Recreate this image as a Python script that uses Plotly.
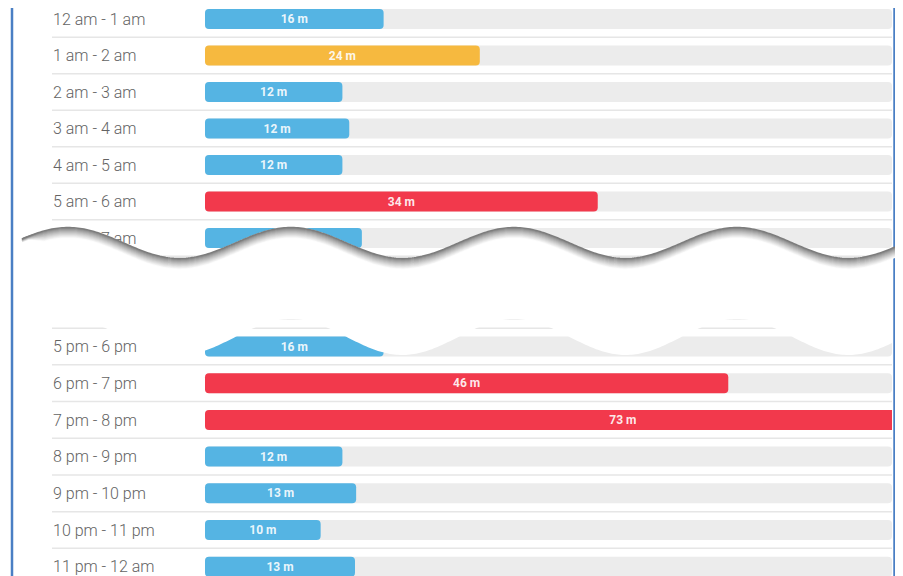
import numpy as np
import plotly.graph_objects as go

# page body has an 8px margin: the figure is placed 8px in from the window corner
OFF = 8
VW, VH = 903, 576
EXTRA = 24  # figure runs a little past the window bottom so the last label fits its axis
W, H = VW - OFF, VH - OFF + EXTRA

# ---------------- data ----------------
top_hours = ["12 am - 1 am", "1 am - 2 am", "2 am - 3 am", "3 am - 4 am",
             "4 am - 5 am", "5 am - 6 am", "6 am - 7 am"]
top_minutes = [15.6, 24.0, 12.0, 12.6, 12.0, 34.3, 13.7]
top_labels = ["16 m", "24 m", "12 m", "12 m", "12 m", "34 m", "14 m"]

bottom_hours = ["4 pm - 5 pm", "5 pm - 6 pm", "6 pm - 7 pm", "7 pm - 8 pm",
                "8 pm - 9 pm", "9 pm - 10 pm", "10 pm - 11 pm", "11 pm - 12 am"]
bottom_minutes = [None, 15.6, 45.7, 73.0, 12.0, 13.2, 10.1, 13.1]
bottom_labels = ["", "16 m", "46 m", "73 m", "12 m", "13 m", "10 m", "13 m"]

SCALE_MAX = 60  # one hour track

# ---------------- styling ----------------
BLUE, ORANGE, RED = "#55b4e3", "#f6b93f", "#f2394c"
TRACK = "#ececec"
SEP = "#e6e6e6"
LABEL = "#636363"
BORDER = "#4a7fc4"


def bar_color(v):
    if v is None:
        return BLUE
    if v >= 30:
        return RED
    if v >= 20:
        return ORANGE
    return BLUE


def X(px):
    return (px - OFF) / W


def Y(py):
    return 1 - (py - OFF) / H


# geometry in window pixels
BAR_X0, BAR_X1 = 205, 892
PX = (BAR_X1 - BAR_X0) / SCALE_MAX
AX_X0 = 50
xrange_ = [-(BAR_X0 - AX_X0) / PX, SCALE_MAX]
xdomain = [X(AX_X0), X(BAR_X1)]

TOP_ROW0, TOP_STEP, TOP_DOM = 19.0, 36.5, (OFF, 258)
BOT_ROW0, BOT_STEP, BOT_DOM = 309.8, 36.7, (290, VH + EXTRA)

fig = go.Figure()


def add_bars(hours, minutes, labels, xa, ya, width):
    n = len(hours)
    fig.add_trace(go.Bar(
        x=[SCALE_MAX] * n, y=hours, orientation="h", base=0,
        marker=dict(color=TRACK, cornerradius=4, line=dict(width=0)),
        width=width, xaxis=xa, yaxis=ya, hoverinfo="skip", showlegend=False,
    ))
    fig.add_trace(go.Bar(
        x=minutes, y=hours, orientation="h", base=0,
        marker=dict(color=[bar_color(v) for v in minutes], cornerradius=4,
                    line=dict(width=0)),
        width=width, text=labels, textposition="inside",
        insidetextanchor="middle", textangle=0, constraintext="none",
        textfont=dict(family="Roboto", size=12, color="rgba(255,255,255,0.9)",
                      weight="bold"),
        cliponaxis=True,
        xaxis=xa, yaxis=ya, hoverinfo="skip", showlegend=False,
    ))


add_bars(top_hours, top_minutes, top_labels, "x", "y", 20 / TOP_STEP)
add_bars(bottom_hours, bottom_minutes, bottom_labels, "x2", "y2", 20 / BOT_STEP)


def yaxis_cfg(dom, row0, step):
    d0, d1 = dom
    return dict(
        domain=[max(0, Y(d1)), min(1, Y(d0))], type="category",
        range=[(d1 - row0) / step, (d0 - row0) / step],
        showgrid=False, zeroline=False, showline=False, ticks="",
        ticklabelposition="inside", ticklabelstandoff=0,
        tickfont=dict(family="Roboto", size=16, color=LABEL, weight=300),
        fixedrange=True,
    )


xcfg = dict(domain=xdomain, range=xrange_, visible=False, showgrid=False,
            zeroline=False, fixedrange=True)

shapes = []

# separators between rows
for i in range(len(top_hours)):
    shapes.append(dict(type="line", xref="paper", yref="y", x0=X(52), x1=X(892),
                       y0=i + 0.5, y1=i + 0.5, line=dict(color=SEP, width=1.5),
                       layer="below"))
for i in range(len(bottom_hours)):
    shapes.append(dict(type="line", xref="paper", yref="y2", x0=X(52), x1=X(892),
                       y0=i + 0.5, y1=i + 0.5, line=dict(color=SEP, width=1.5),
                       layer="below"))

# torn-paper break
PERIOD, PHASE = 223.0, 68.0


def f_top(x):
    return 242.5 - 15.5 * np.cos(2 * np.pi * (x - PHASE) / PERIOD)


def g_bot(x):
    g = 337.0 - 18.0 * np.cos(2 * np.pi * (x - PHASE) / PERIOD)
    return np.where(x < 165, np.minimum(g, 336.0), g)


def P(x, y):
    return f"{X(x):.5f},{Y(y):.5f}"


xs = np.arange(20, 893, 2.0)
top_pts = [P(x, y) for x, y in zip(xs, f_top(xs))]
bot_pts = [P(x, y) for x, y in zip(xs[::-1], g_bot(xs[::-1]))]
band = "M " + " L ".join(top_pts + bot_pts) + " Z"
shapes.append(dict(type="path", xref="paper", yref="paper", path=band,
                   fillcolor="white", line=dict(width=0), layer="above"))

# frame (the right one kept inside the visible part of the window)
for bx in (12, 894.5):
    shapes.append(dict(type="line", xref="paper", yref="paper", x0=X(bx), x1=X(bx),
                       y0=0, y1=1, line=dict(color=BORDER, width=2.5), layer="above"))

# shadow along the torn edge
xs2 = np.arange(22, 904, 2.0)
taper = np.clip((xs2 - 22) / 22.0, 0.3, 1.0)
for k in range(10, -1, -1):
    t = k / 10
    c = int(125 + (253 - 125) * t ** 0.8)
    ys = f_top(xs2) + 0.6 + k * taper
    path = "M " + " L ".join(P(x, y) for x, y in zip(xs2, ys))
    shapes.append(dict(type="path", xref="paper", yref="paper", path=path,
                       line=dict(color=f"rgb({c},{c},{c})", width=1.6),
                       layer="above"))

fig.update_layout(
    width=W, height=H,
    margin=dict(l=0, r=0, t=0, b=0),
    paper_bgcolor="white", plot_bgcolor="white",
    barmode="overlay", showlegend=False,
    xaxis=dict(xcfg, anchor="y"),
    yaxis=dict(yaxis_cfg(TOP_DOM, TOP_ROW0, TOP_STEP), anchor="x"),
    xaxis2=dict(xcfg, anchor="y2"),
    yaxis2=dict(yaxis_cfg(BOT_DOM, BOT_ROW0, BOT_STEP), anchor="x2"),
    shapes=shapes,
    font=dict(family="Roboto"),
)

fig.write_html("out.html")
